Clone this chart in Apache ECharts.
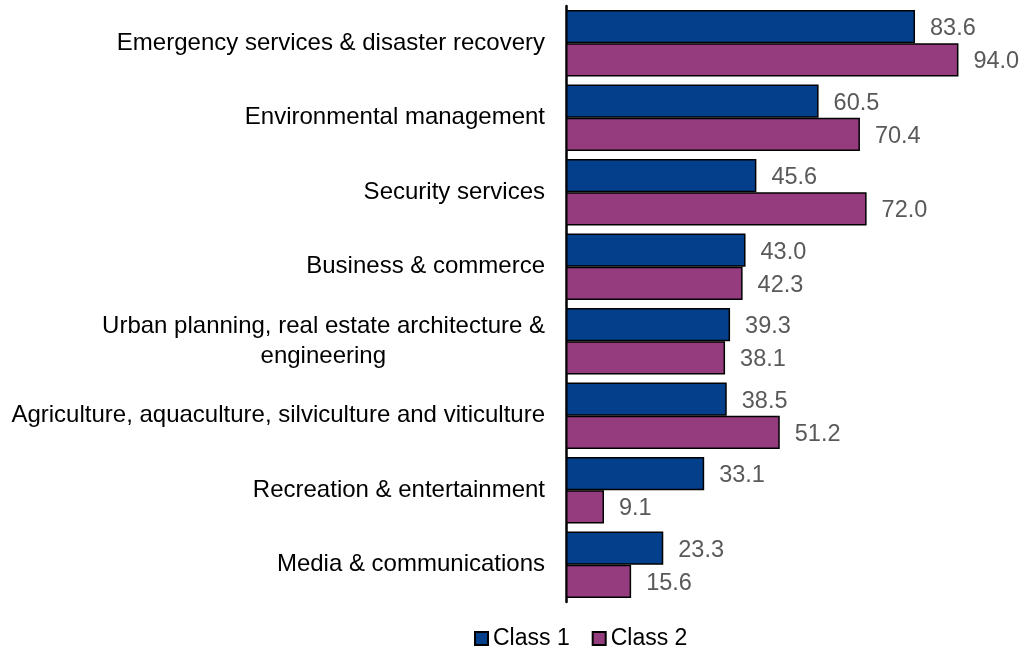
<!DOCTYPE html>
<html>
<head>
<meta charset="utf-8">
<script src="https://cdn.jsdelivr.net/npm/echarts@6/dist/echarts.min.js"></script>
<style>
  html, body { margin: 0; padding: 0; background: #ffffff; }
  #chart { width: 1024px; height: 648px; }
</style>
</head>
<body>
<div id="chart"></div>
<script>
// Sectors, listed top to bottom
const categories = [
  'Emergency services & disaster recovery',
  'Environmental management',
  'Security services',
  'Business & commerce',
  'Urban planning, real estate architecture &\nengineering',
  'Agriculture, aquaculture, silviculture and viticulture',
  'Recreation & entertainment',
  'Media & communications'
];
const seriesNames = ['Class 1', 'Class 2'];
const class1 = [83.6, 60.5, 45.6, 43.0, 39.3, 38.5, 33.1, 23.3];
const class2 = [94.0, 70.4, 72.0, 42.3, 38.1, 51.2, 9.1, 15.6];

const FONT_FAMILY = '"Liberation Sans", Arial, sans-serif';
const CAT_FONT_SIZE = 24;
const FONT_SIZE = 23.5;
const colors = ['#033F8A', '#953C7F'];

// Text width helper, used to centre the lines of wrapped axis labels
const measureCtx = document.createElement('canvas').getContext('2d');
measureCtx.font = CAT_FONT_SIZE + 'px ' + FONT_FAMILY;
function textWidth(s) { return measureCtx.measureText(s).width; }

// Wrapped category labels: each line gets its own rich style
function categoryFormatter(v) {
  const lines = v.split('\n');
  if (lines.length === 1) return v;
  return lines.map(function (line, i) { return '{l' + i + '|' + line + '}'; }).join('\n');
}
// Right padding per line so every line is centred under the widest one
function buildRich() {
  const rich = {};
  categories.forEach(function (v) {
    const lines = v.split('\n');
    if (lines.length === 1) return;
    const widths = lines.map(textWidth);
    const maxW = Math.max.apply(null, widths);
    lines.forEach(function (line, i) {
      rich['l' + i] = {
        fontSize: CAT_FONT_SIZE,
        fontFamily: FONT_FAMILY,
        color: '#000000',
        lineHeight: 30,
        padding: [0, Math.round((maxW - widths[i]) / 2), 0, 0]
      };
    });
  });
  return rich;
}

function makeSeries(name, data, color) {
  return {
    name: name,
    type: 'bar',
    data: data,
    barGap: '0%',
    barCategoryGap: '11%',
    itemStyle: { color: color, borderColor: '#000000', borderWidth: 1.5 },
    label: {
      show: true,
      position: 'right',
      distance: 15,
      offset: [0, 2],
      formatter: function (p) { return p.value.toFixed(1); },
      color: '#595959',
      fontSize: FONT_SIZE,
      fontFamily: FONT_FAMILY
    },
    emphasis: { disabled: true }
  };
}

const chart = echarts.init(document.getElementById('chart'));
chart.setOption({
  animation: false,
  backgroundColor: '#ffffff',
  grid: { left: 566, right: 40.5, top: 6, bottom: 46, containLabel: false },
  legend: {
    data: seriesNames,
    left: 469,
    top: 622,
    itemWidth: 13,
    itemHeight: 13,
    itemGap: 22,
    itemTextGap: 3,
    icon: 'rect',
    textStyle: { color: '#000000', fontSize: 23, fontFamily: FONT_FAMILY }
  },
  xAxis: {
    type: 'value',
    min: 0,
    max: 100,
    show: false
  },
  yAxis: {
    type: 'category',
    data: categories,
    inverse: true,
    axisLine: { show: true, lineStyle: { color: '#000000', width: 2.5 } },
    axisTick: { show: false },
    splitLine: { show: false },
    axisLabel: {
      margin: 21,
      color: '#000000',
      fontSize: CAT_FONT_SIZE,
      fontFamily: FONT_FAMILY,
      lineHeight: 30,
      formatter: categoryFormatter,
      rich: buildRich()
    }
  },
  series: [
    makeSeries(seriesNames[0], class1, colors[0]),
    makeSeries(seriesNames[1], class2, colors[1])
  ]
});
</script>
</body>
</html>
